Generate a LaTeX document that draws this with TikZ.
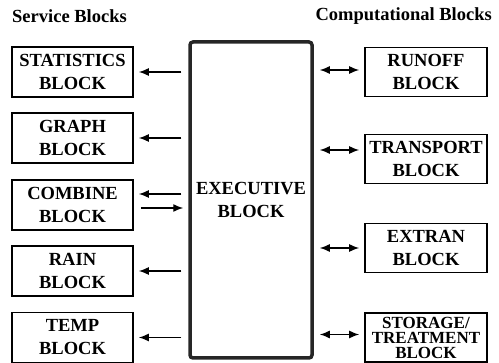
\documentclass[tikz,border=0pt]{standalone}
\usepackage{fontspec}
\setmainfont{Liberation Serif}
\usetikzlibrary{arrows.meta, positioning}

\begin{document}
\begin{tikzpicture}[
    x=1pt, y=-1pt,
    >={Latex[length=10pt,width=8pt]},
    font=\bfseries\fontsize{18.5pt}{23pt}\selectfont,
    blkhead/.style={inner sep=0pt, font=\bfseries\fontsize{18.5pt}{20pt}\selectfont},
    svcblock/.style={draw, line width=1.6pt, align=center, inner sep=0pt, minimum width=121pt, minimum height=50pt},
    cmpblock/.style={draw, line width=1.6pt, align=center, inner sep=0pt, minimum width=122pt, minimum height=49pt},
    execblock/.style={draw=black!85, line width=3.5pt, rounded corners=3pt, align=center, inner sep=0pt, minimum width=122pt, minimum height=316pt},
    svcarrow/.style={->, line width=1.4pt, shorten <=7pt, shorten >=5pt},
    cmparrow/.style={<->, line width=1.4pt, shorten <=6pt, shorten >=5pt}
]
\useasboundingbox (0,0) rectangle (499,363);

\node[blkhead, anchor=west] (svchead) at (12,16) {Service Blocks};
\node[blkhead, anchor=east] (cmphead) at (492,16) {Computational Blocks};

\node[execblock] (exec) at (251,200) {EXECUTIVE\\BLOCK};

\node[svcblock] (stat) at (72.5,72) {STATISTICS\\BLOCK};
\node[svcblock] (graph) at (72.5,138) {GRAPH\\BLOCK};
\node[svcblock] (comb) at (72.5,205) {COMBINE\\BLOCK};
\node[svcblock] (rain) at (72.5,271) {RAIN\\BLOCK};
\node[svcblock] (temp) at (72.5,337.5) {TEMP\\BLOCK};

\node[cmpblock] (runoff) at (426,72) {RUNOFF\\BLOCK};
\node[cmpblock] (tran) at (426,159) {TRANSPORT\\BLOCK};
\node[cmpblock] (extran) at (426,248) {EXTRAN\\BLOCK};
\node[cmpblock, font=\bfseries\fontsize{17pt}{15pt}\selectfont] (stor) at (426,337.5) {STORAGE/\\TREATMENT\\BLOCK};

\draw[svcarrow] (stat.east -| exec.west) -- (stat.east);
\draw[svcarrow] (graph.east -| exec.west) -- (graph.east);
\draw[svcarrow] ([yshift=11pt]comb.east -| exec.west) -- ([yshift=11pt]comb.east);
\draw[svcarrow] ([yshift=-3pt]comb.east) -- ([yshift=-3pt]comb.east -| exec.west);
\draw[svcarrow] (rain.east -| exec.west) -- (rain.east);
\draw[svcarrow] (temp.east -| exec.west) -- (temp.east);

\draw[cmparrow] ([yshift=2pt]runoff.west -| exec.east) -- ([yshift=2pt]runoff.west);
\draw[cmparrow] ([yshift=9pt]tran.west -| exec.east) -- ([yshift=9pt]tran.west);
\draw[cmparrow] (extran.west -| exec.east) -- (extran.west);
\draw[cmparrow] ([yshift=3pt]stor.west -| exec.east) -- ([yshift=3pt]stor.west);

\end{tikzpicture}
\end{document}
